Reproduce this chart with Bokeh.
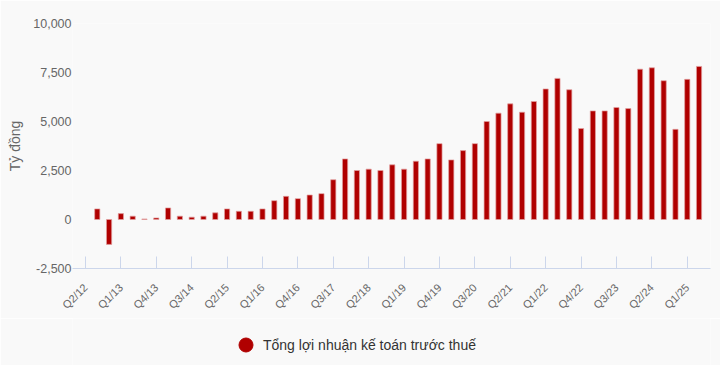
import math
from bokeh.plotting import figure
from bokeh.layouts import column
from bokeh.models import FixedTicker, NumeralTickFormatter, Range1d, ColumnDataSource
from bokeh.embed import file_html
from bokeh.resources import INLINE

# Quarters with data (Q3/12 .. Q2/25)
quarters = [
    "Q3/12", "Q4/12", "Q1/13", "Q2/13", "Q3/13", "Q4/13", "Q1/14", "Q2/14", "Q3/14", "Q4/14",
    "Q1/15", "Q2/15", "Q3/15", "Q4/15", "Q1/16", "Q2/16", "Q3/16", "Q4/16", "Q1/17", "Q2/17",
    "Q3/17", "Q4/17", "Q1/18", "Q2/18", "Q3/18", "Q4/18", "Q1/19", "Q2/19", "Q3/19", "Q4/19",
    "Q1/20", "Q2/20", "Q3/20", "Q4/20", "Q1/21", "Q2/21", "Q3/21", "Q4/21", "Q1/22", "Q2/22",
    "Q3/22", "Q4/22", "Q1/23", "Q2/23", "Q3/23", "Q4/23", "Q1/24", "Q2/24", "Q3/24", "Q4/24",
    "Q1/25", "Q2/25",
]
# Tổng lợi nhuận kế toán trước thuế (tỷ đồng)
profit = [
    540, -1270, 300, 170, 30, 80, 590, 170, 120, 170,
    340, 540, 420, 420, 540, 960, 1180, 1065, 1250, 1320,
    2030, 3090, 2500, 2570, 2500, 2790, 2570, 2975, 3090, 3870,
    3040, 3515, 3870, 5000, 5425, 5900, 5475, 6020, 6660, 7200,
    6620, 4640, 5540, 5540, 5715, 5660, 7670, 7740, 7080, 4600,
    7150, 7810,
]
tick_labels = [
    "Q2/12", "Q1/13", "Q4/13", "Q3/14", "Q2/15", "Q1/16", "Q4/16", "Q3/17", "Q2/18",
    "Q1/19", "Q4/19", "Q3/20", "Q2/21", "Q1/22", "Q4/22", "Q3/23", "Q2/24", "Q1/25",
]
y_ticks = [-2500, 0, 2500, 5000, 7500, 10000]
series_name = "Tổng lợi nhuận kế toán trước thuế"
y_title = "Tỷ đồng"


def qpos(label):
    q, yy = label[1:].split("/")
    return (int(yy) - 12) * 4 + (int(q) - 2)


xs = [qpos(q) for q in quarters]
tick_pos = [qpos(t) for t in tick_labels]

BAR = "#b00000"
GRAY = "#666666"
BG = "#f9f9f9"
FONT = "Liberation Sans"

p = figure(width=720, height=318, output_backend="svg", toolbar_location=None,
           x_range=Range1d(-1.10, 52.97), y_range=Range1d(-2500, 10000),
           min_border_left=72, min_border_right=10, min_border_top=23, min_border_bottom=49)
p.background_fill_color = BG
p.border_fill_color = BG
p.outline_line_color = None
p.xgrid.visible = False
p.ygrid.visible = False

src = ColumnDataSource(dict(x=xs, top=profit, q=quarters))
p.vbar(x="x", top="top", bottom=0, width=0.44, source=src,
       fill_color=BAR, line_color="#e2a0a0", line_width=0.7)

# x axis
xa = p.xaxis[0]
xa.ticker = FixedTicker(ticks=tick_pos, minor_ticks=[])
xa.major_label_overrides = {pos: lab for pos, lab in zip(tick_pos, tick_labels)}
xa.major_label_orientation = math.pi / 4
xa.major_label_text_align = "right"
xa.axis_line_color = "#ccd6eb"
xa.major_tick_line_color = "#ccd6eb"
xa.major_tick_in = 12
xa.major_tick_out = 0
xa.minor_tick_line_color = None
xa.minor_tick_in = 0
xa.minor_tick_out = 0
xa.major_label_text_font = FONT
xa.major_label_text_font_size = "11px"
xa.major_label_text_color = GRAY
xa.major_label_standoff = 17

# y axis
ya = p.yaxis[0]
ya.ticker = FixedTicker(ticks=y_ticks, minor_ticks=[])
ya.formatter = NumeralTickFormatter(format="0,0")
ya.axis_line_color = None
ya.major_tick_line_color = None
ya.minor_tick_line_color = None
ya.major_tick_in = 0
ya.major_tick_out = 0
ya.minor_tick_in = 0
ya.minor_tick_out = 0
ya.major_label_standoff = 1
ya.major_label_text_font = FONT
ya.major_label_text_font_size = "12.5px"
ya.major_label_text_color = GRAY
ya.axis_label = y_title
ya.axis_label_text_font = FONT
ya.axis_label_text_font_size = "14px"
ya.axis_label_text_font_style = "normal"
ya.axis_label_text_color = GRAY
ya.axis_label_standoff = 7

# legend in its own strip below the chart
lf = figure(width=720, height=47, output_backend="svg", toolbar_location=None,
            x_range=Range1d(0, 1), y_range=Range1d(0, 1),
            min_border_left=0, min_border_right=0, min_border_top=0, min_border_bottom=0)
lf.axis.visible = False
lf.grid.visible = False
lf.outline_line_color = None
lf.background_fill_color = BG
lf.border_fill_color = BG
nan = float("nan")
lf.scatter(x=[nan], y=[nan], marker="circle", fill_color=BAR, line_color=BAR,
           legend_label=series_name)
lg = lf.legend[0]
lg.location = (156, 3)
lg.orientation = "horizontal"
lg.glyph_width = 35
lg.glyph_height = 35
lg.label_standoff = -3
lg.padding = 0
lg.margin = 0
lg.spacing = 0
lg.border_line_color = None
lg.background_fill_alpha = 0
lg.label_text_font = FONT
lg.label_text_font_size = "14px"
lg.label_text_color = "#333333"

layout = column(p, lf, spacing=0)
open("out.html", "w").write(file_html(layout, INLINE))
